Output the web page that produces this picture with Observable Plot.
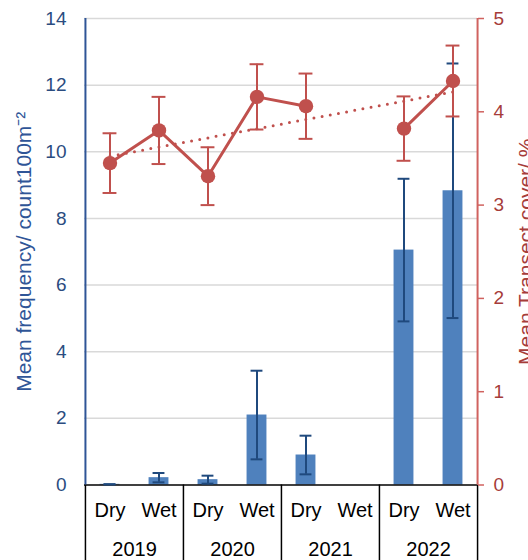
<!DOCTYPE html>
<html>
<head>
<meta charset="utf-8">
<script src="https://cdn.jsdelivr.net/npm/d3@7"></script>
<script src="https://cdn.jsdelivr.net/npm/@observablehq/plot@0.6"></script>
<style>
  html, body { margin: 0; padding: 0; background: #fff; }
</style>
</head>
<body>
<div id="chart"></div>
<script>
// ---- data ----
const years = ["2019", "2020", "2021", "2022"];
const seasons = ["Dry", "Wet"];
const categories = years.flatMap(y => seasons.map(s => `${y} ${s}`));
const freqMean = [0.02, 0.22, 0.16, 2.10, 0.90, null, 7.05, 8.83];
const freqErr  = [0.00, 0.14, 0.12, 1.33, 0.58, null, 2.14, 3.82];
const coverMean = [3.45, 3.80, 3.31, 4.16, 4.06, null, 3.82, 4.33];
const coverErr  = [0.32, 0.36, 0.31, 0.35, 0.35, null, 0.345, 0.38];
const leftTicks = [0, 2, 4, 6, 8, 10, 12, 14];
const rightTicks = [0, 1, 2, 3, 4, 5];
const leftTitle = "Mean frequency/ count100m\u207B\u00B2";
const rightTitle = "Mean Transect cover/ %";

// ---- derived ----
const k = leftTicks[leftTicks.length - 1] / rightTicks[rightTicks.length - 1];
const rows = categories.map((cat, i) => ({
  cat, f: freqMean[i], fe: freqErr[i], c: coverMean[i], ce: coverErr[i]
}));
const fRows = rows.filter(d => d.f != null);
const cRows = rows.filter(d => d.c != null);

// linear trend over category index (missing values excluded)
const pts = categories.map((_, i) => i).filter(i => coverMean[i] != null);
const mx = d3.mean(pts), my = d3.mean(pts, i => coverMean[i]);
const slope = d3.sum(pts, i => (i - mx) * (coverMean[i] - my)) / d3.sum(pts, i => (i - mx) ** 2);
const trend = [0, categories.length - 1].map(i => ({cat: categories[i], v: my + slope * (i - mx)}));

const W = 528, H = 560;
const mL = 84, mR = 51, mT = 18, mB = 75.5;
const half = (W - mL - mR) / categories.length / 2;

const BLUE = "#4F81BD", DBLUE = "#1F497D", RED = "#C0504D";
const font = "'Liberation Sans', Arial, sans-serif";

const plot = Plot.plot({
  width: W, height: H,
  marginLeft: mL, marginRight: mR, marginTop: mT, marginBottom: mB,
  style: {fontFamily: font, background: "#fff", overflow: "visible"},
  x: {domain: categories, padding: 0, axis: null},
  y: {domain: [0, 14], axis: null},
  marks: [
    // gridlines
    Plot.ruleY(leftTicks.filter(t => t > 0), {stroke: "#d9d9d9", strokeWidth: 1.5}),
    // bars
    Plot.barY(fRows, {x: "cat", y: "f", fill: BLUE, insetLeft: half - 10, insetRight: half - 10}),
    // zero line
    Plot.ruleY([0], {stroke: "#000", strokeWidth: 1.5}),
    // bar error bars
    Plot.ruleX(fRows, {x: "cat", y1: d => d.f - d.fe, y2: d => d.f + d.fe, stroke: DBLUE, strokeWidth: 2}),
    Plot.tickY(fRows, {x: "cat", y: d => d.f + d.fe, stroke: DBLUE, strokeWidth: 2, insetLeft: half - 6, insetRight: half - 6}),
    Plot.tickY(fRows, {x: "cat", y: d => d.f - d.fe, stroke: DBLUE, strokeWidth: 2, insetLeft: half - 6, insetRight: half - 6}),
    // table separators under the plot
    Plot.ruleX(years.map(y => `${y} Dry`), {x: d => d, dx: -half, insetTop: H - mT - mB, insetBottom: -mB, stroke: "#000", strokeWidth: 1.5}),
    Plot.ruleX([categories[categories.length - 1]], {x: d => d, dx: half, insetTop: H - mT - mB, insetBottom: -mB, stroke: "#000", strokeWidth: 1.5}),
    // axis lines
    Plot.ruleX([categories[0]], {x: d => d, dx: -half, stroke: "#2F5597", strokeWidth: 2}),
    Plot.ruleX([categories[categories.length - 1]], {x: d => d, dx: half, stroke: "#D0625F", strokeWidth: 2}),
    // trend line
    Plot.line(trend, {x: "cat", y: d => d.v * k, stroke: RED, strokeWidth: 3, strokeDasharray: "0 8.3", strokeLinecap: "round"}),
    // cover line
    Plot.line(rows, {x: "cat", y: d => d.c == null ? NaN : d.c * k, stroke: RED, strokeWidth: 3}),
    // cover error bars
    Plot.ruleX(cRows, {x: "cat", y1: d => (d.c - d.ce) * k, y2: d => (d.c + d.ce) * k, stroke: RED, strokeWidth: 2}),
    Plot.tickY(cRows, {x: "cat", y: d => (d.c + d.ce) * k, stroke: RED, strokeWidth: 2, insetLeft: half - 7, insetRight: half - 7}),
    Plot.tickY(cRows, {x: "cat", y: d => (d.c - d.ce) * k, stroke: RED, strokeWidth: 2, insetLeft: half - 7, insetRight: half - 7}),
    Plot.dot(cRows, {x: "cat", y: d => d.c * k, r: 7.2, fill: RED}),
    // left axis
    Plot.axisY(leftTicks, {anchor: "left", tickSize: 0, tickPadding: 18, fontSize: 19, fill: "#2B4C80", label: null}),
    // right axis
    Plot.axisY(rightTicks.map(v => v * k), {anchor: "right", tickSize: 6, tickPadding: 10, strokeWidth: 1.5,
      stroke: "#D0625F", fill: "#A63C3A", fontSize: 19, tickFormat: d => String(Math.round(d / k)), label: null}),
    // category labels
    Plot.text(categories, {x: d => d, text: d => d.split(" ")[1], frameAnchor: "bottom", lineAnchor: "middle", dy: 26, fontSize: 20, fill: "#000"}),
    Plot.text(years, {x: d => `${d} Dry`, text: d => d, dx: half, frameAnchor: "bottom", lineAnchor: "middle", dy: 65, fontSize: 20, fill: "#000"}),
    // axis titles
    Plot.text([leftTitle], {text: d => d, frameAnchor: "left", textAnchor: "middle", lineAnchor: "middle", rotate: -90, dx: -60, fontSize: 21, fill: "#2F5597"}),
    Plot.text([rightTitle], {text: d => d, frameAnchor: "right", textAnchor: "middle", lineAnchor: "middle", rotate: -90, dx: 49, fontSize: 21, fill: "#A63C3A"})
  ]
});
document.getElementById("chart").appendChild(plot);
</script>
</body>
</html>
